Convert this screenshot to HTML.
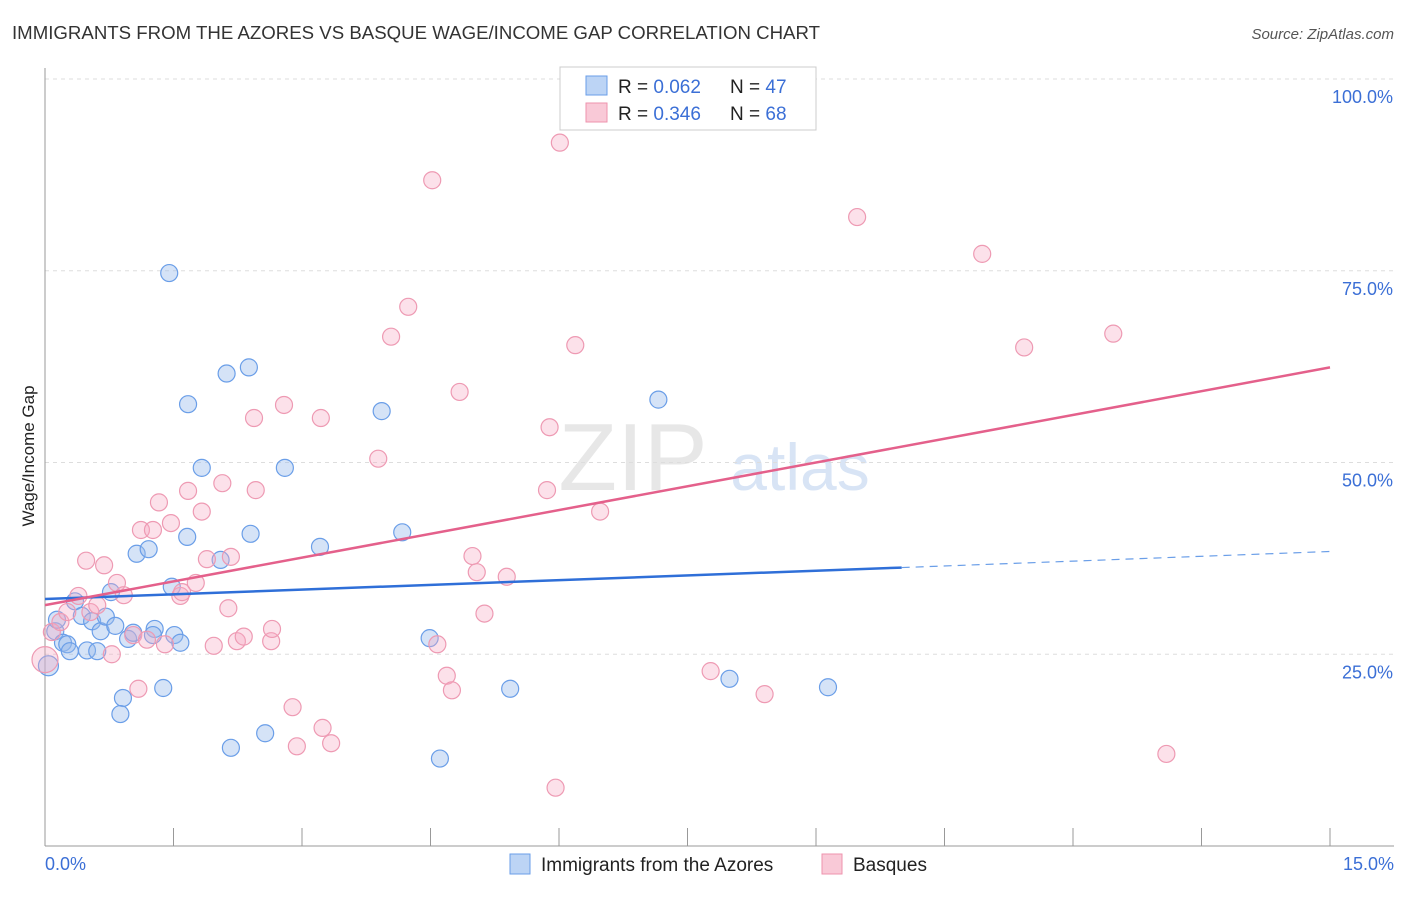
<!DOCTYPE html>
<html><head><meta charset="utf-8"><style>
body{margin:0;background:#fff;font-family:"Liberation Sans",sans-serif;}
svg text{font-family:"Liberation Sans",sans-serif;}
</style></head><body>
<svg id="chart" width="1406" height="892">
<text x="12" y="39" font-size="18" fill="#333" textLength="808" lengthAdjust="spacingAndGlyphs">IMMIGRANTS FROM THE AZORES VS BASQUE WAGE/INCOME GAP CORRELATION CHART</text>
<text x="1394" y="39" font-size="15" fill="#555" font-style="italic" text-anchor="end">Source: ZipAtlas.com</text>
<text x="633" y="490" font-size="96" fill="#ccc" opacity="0.45" font-family="Liberation Serif" text-anchor="middle">ZIP</text>
<text x="800" y="490" font-size="66" fill="#a9c4ea" opacity="0.45" text-anchor="middle">atlas</text>
<text x="34" y="456" font-size="17" fill="#222" text-anchor="middle" transform="rotate(-90 34 456)">Wage/Income Gap</text>
<g id="grid"></g><g id="axes"></g><g id="pts"></g><g id="lines"></g>
<g>
<rect x="560" y="67" width="256" height="63" fill="#fff" stroke="#ccc"/>
<rect x="586" y="76" width="21" height="19" fill="#bcd4f5" stroke="#6a9ee8"/>
<rect x="586" y="103" width="21" height="19" fill="#f9c9d7" stroke="#ee93ae"/>
<text x="618" y="93" font-size="19" fill="#222">R = <tspan fill="#3b6fd6">0.062</tspan></text>
<text x="730" y="93" font-size="19" fill="#222">N = <tspan fill="#3b6fd6">47</tspan></text>
<text x="618" y="120" font-size="19" fill="#222">R = <tspan fill="#3b6fd6">0.346</tspan></text>
<text x="730" y="120" font-size="19" fill="#222">N = <tspan fill="#3b6fd6">68</tspan></text>
</g>
<g>
<rect x="510" y="854" width="20" height="20" fill="#bcd4f5" stroke="#6a9ee8"/>
<text x="541" y="871" font-size="19" fill="#222">Immigrants from the Azores</text>
<rect x="822" y="854" width="20" height="20" fill="#f9c9d7" stroke="#ee93ae"/>
<text x="853" y="871" font-size="19" fill="#222">Basques</text>
</g>
</svg>
<script>
const xTicks=[0,1.5,3,4.5,6,7.5,9,10.5,12,13.5,15];
const yTicks=[25,50,75,100];
const yTickLabels=["25.0%","50.0%","75.0%","100.0%"];
const azoresX=[0.04,0.12,0.14,0.21,0.26,0.29,0.35,0.43,0.49,0.55,0.61,0.65,0.71,0.77,0.82,0.91,0.88,0.97,1.03,1.07,1.21,1.28,1.26,1.38,1.45,1.48,1.51,1.58,1.66,1.67,1.83,2.05,2.12,2.17,2.38,2.40,2.57,2.80,3.21,3.93,4.17,4.49,4.61,5.43,7.16,7.99,9.14];
const azoresY=[23.5,28.0,29.5,26.5,26.3,25.4,31.9,30.0,25.5,29.3,25.4,28.0,29.9,33.1,28.7,19.3,17.2,27.0,27.8,38.1,38.7,28.3,27.5,20.6,74.7,33.8,27.5,26.5,40.3,57.6,49.3,37.3,61.6,12.8,62.4,40.7,14.7,49.3,39.0,56.7,40.9,27.1,11.4,20.5,58.2,21.8,20.7];
const basquesX=[0.0,0.08,0.18,0.26,0.39,0.48,0.53,0.61,0.69,0.78,0.84,0.92,1.03,1.09,1.12,1.19,1.26,1.33,1.40,1.47,1.58,1.60,1.67,1.76,1.83,1.89,1.97,2.07,2.14,2.17,2.24,2.32,2.44,2.46,2.64,2.65,2.79,2.89,2.94,3.22,3.24,3.34,3.89,4.04,4.24,4.52,4.58,4.69,4.75,4.84,4.99,5.04,5.13,5.39,5.86,5.89,5.96,6.01,6.19,6.48,7.77,8.40,9.48,10.94,11.43,12.47,13.09];
const basquesY=[24.3,27.9,29.2,30.5,32.6,37.2,30.5,31.4,36.6,25.0,34.3,32.7,27.5,20.5,41.2,26.9,41.2,44.8,26.3,42.1,32.6,33.1,46.3,34.3,43.6,37.4,26.1,47.3,31.0,37.7,26.7,27.3,55.8,46.4,26.7,28.3,57.5,18.1,13.0,55.8,15.4,13.4,50.5,66.4,70.3,86.8,26.3,22.2,20.3,59.2,37.8,35.7,30.3,35.1,46.4,54.6,7.6,91.7,65.3,43.6,22.8,19.8,82.0,77.2,65.0,66.8,12.0];
const azTrendX=[0,10],azTrendY=[32.2,36.3],azDashX=[10,15],azDashY=[36.3,38.4];
const bsTrendX=[0,15],bsTrendY=[31.4,62.4];
const NS='http://www.w3.org/2000/svg';
const X=v=>45+v/15*1285, Y=v=>846-v*7.67;
function mk(t,a,p){const e=document.createElementNS(NS,t);for(const k in a)e.setAttribute(k,a[k]);p.appendChild(e);return e;}
const grid=document.getElementById('grid'),axes=document.getElementById('axes'),pts=document.getElementById('pts'),lines=document.getElementById('lines');
yTicks.forEach((v,i)=>{
 const l=mk('line',{x1:45,x2:1394,y1:Y(v),y2:Y(v),stroke:'#ddd','stroke-dasharray':'4,4'},grid);
 
 
 const t=mk('text',{x:1393,y:Y(v)+24,'font-size':18,fill:'#3b6fd6','text-anchor':'end'},axes);
 t.textContent=yTickLabels[i];
 
 
});
mk('line',{x1:45,x2:45,y1:68,y2:846,stroke:'#999'},axes);
mk('line',{x1:45,x2:1394,y1:846,y2:846,stroke:'#999'},axes);
xTicks.forEach(v=>{
 const l=mk('line',{x1:X(v),x2:X(v),y1:828,y2:846,stroke:'#999'},axes);
 
 
});
let t0=mk('text',{x:45,y:870,'font-size':18,fill:'#3b6fd6'},axes);t0.textContent='0.0%';


let t1=mk('text',{x:1394,y:870,'font-size':18,fill:'#3b6fd6','text-anchor':'end'},axes);t1.textContent='15.0%';


azoresX.forEach((x,i)=>{
 const c=mk('circle',{cx:X(x),cy:Y(azoresY[i]),r:i==0?10:8.5,fill:'rgba(150,185,235,0.4)',stroke:'#6a9ee8','stroke-width':1.2},pts);
 
 
});
basquesX.forEach((x,i)=>{
 const c=mk('circle',{cx:X(x),cy:Y(basquesY[i]),r:i==0?13:8.5,fill:'rgba(245,170,195,0.35)',stroke:'#ee9ab3','stroke-width':1.2},pts);
 
 
});
let l1=mk('line',{x1:X(azTrendX[0]),y1:Y(azTrendY[0]),x2:X(azTrendX[1]),y2:Y(azTrendY[1]),stroke:'#2f6fd8','stroke-width':2.5},lines);


let l2=mk('line',{x1:X(azDashX[0]),y1:Y(azDashY[0]),x2:X(azDashX[1]),y2:Y(azDashY[1]),stroke:'#6a9ee8','stroke-width':1.2,'stroke-dasharray':'8,6'},lines);


let l3=mk('line',{x1:X(bsTrendX[0]),y1:Y(bsTrendY[0]),x2:X(bsTrendX[1]),y2:Y(bsTrendY[1]),stroke:'#e4608b','stroke-width':2.5},lines);


</script>
</body></html>
